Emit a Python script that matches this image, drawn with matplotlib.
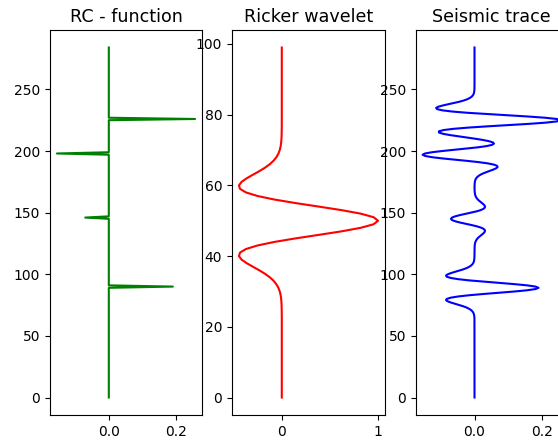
import numpy as np
import matplotlib
matplotlib.use('Agg')
import matplotlib.pyplot as plt

# reflection coefficients: sample index and value of each spike
n_samples = 285
rc_index = [90, 146, 198, 226]
rc_value = [0.19, -0.07, -0.154, 0.256]

# ricker wavelet samples (100 samples, peak at 50)
wavelet = [0.0] * 24 + [
    -0.00047, -0.00097, -0.00193, -0.00370, -0.00685, -0.01222, -0.02101,
    -0.03477, -0.05537, -0.08472, -0.12437, -0.17488, -0.23496, -0.30071,
    -0.36511, -0.41743, -0.44496, -0.43362, -0.37174, -0.25257, -0.07758,
    0.14180, 0.38423, 0.62093, 0.82019, 0.95325,
    1.0,
    0.95325, 0.82019, 0.62093, 0.38423, 0.14180,
    -0.07758, -0.25257, -0.37174, -0.43362, -0.44496, -0.41743, -0.36511,
    -0.30071, -0.23496, -0.17488, -0.12437, -0.08472, -0.05537, -0.03477,
    -0.02101, -0.01222, -0.00685, -0.00370, -0.00193, -0.00097, -0.00047,
] + [0.0] * 23

rc = np.zeros(n_samples)
rc[rc_index] = rc_value
wavelet = np.array(wavelet)

# synthetic trace = rc convolved with the wavelet (full output, cut to n_samples)
trace = np.convolve(rc, wavelet)[51:51 + n_samples]

depth = np.arange(n_samples)

fig = plt.figure(figsize=(5.58, 4.41), dpi=100)
ax1 = fig.add_axes([50/558, 26/441, 152/558, 385/441])
ax2 = fig.add_axes([232/558, 26/441, 153/558, 385/441])
ax3 = fig.add_axes([415.7/558, 26/441, 152/558, 385/441])

ax1.plot(rc, depth, 'g')
ax1.set_title('RC - function', fontsize=12.6)

ax2.plot(wavelet, np.arange(len(wavelet)), 'r')
ax2.set_title('Ricker wavelet', fontsize=12.6)

ax3.plot(trace, depth, 'b')
ax3.set_title('Seismic trace', fontsize=12.6)

fig.savefig('out.png', dpi=100)
